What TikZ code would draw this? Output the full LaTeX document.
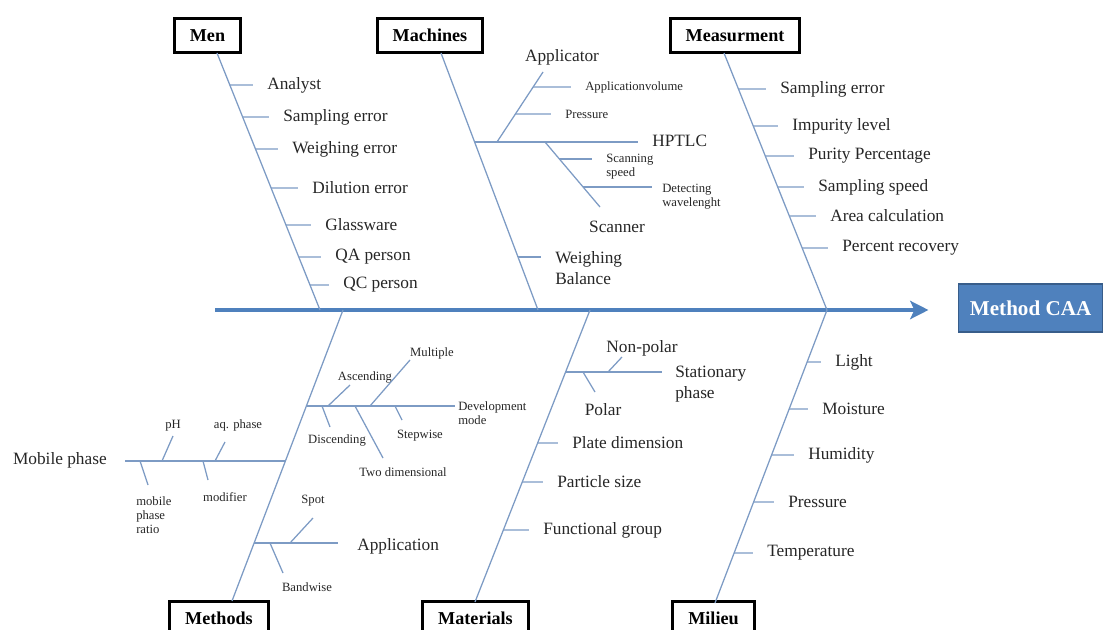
\documentclass[tikz,border=0pt]{standalone}
\usepackage{fontspec}
\setmainfont{Liberation Serif}
\usetikzlibrary{arrows.meta}

\definecolor{axisblue}{RGB}{79,129,189}
\definecolor{caaedge}{RGB}{56,93,138}
\definecolor{bonec}{RGB}{125,155,196}
\definecolor{txt}{RGB}{38,38,38}

\tikzset{
  cat/.style={draw=black, line width=2.3pt, font=\bfseries\fontsize{12.9}{15}\selectfont,
              inner xsep=11pt, minimum height=24pt},
  lbl/.style={inner sep=0pt, font=\fontsize{12.3}{14.8}\selectfont, text=txt, align=left},
  sml/.style={inner sep=0pt, font=\fontsize{9}{10}\selectfont, text=txt, align=left},
  bone/.style={draw=bonec, line width=0.9pt},
  rib/.style={bone, shorten >=10pt},
}

\begin{document}
\begin{tikzpicture}[x=0.025cm, y=-0.025cm]
\useasboundingbox (0,0) rectangle (1103,630);

% effect and main axis
\node[draw=caaedge, fill=axisblue, line width=1pt, text=white, anchor=west,
      font=\bfseries\fontsize{15}{18}\selectfont, minimum height=34pt, inner xsep=8pt]
      (caa) at (958,308) {Method CAA};
\coordinate (tail) at (215,310);
\draw[axisblue, line width=2.8pt, -{Stealth[length=13pt,width=13pt,inset=3pt]}, shorten >=21pt]
      (tail) -- (tail -| caa.west);

% categories
\node[cat] (men) at (207.5,35.5) {Men};
\node[cat] (machines) at (430,35.5) {Machines};
\node[cat] (measure) at (735,35.5) {Measurment};
\node[cat] (methods) at (219,618) {Methods};
\node[cat] (materials) at (475.5,618) {Materials};
\node[cat] (milieu) at (713.5,618) {Milieu};

% main bones
\coordinate (mena) at (217,53);   \coordinate (menb) at (320,310);
\coordinate (maca) at (441,53);   \coordinate (macb) at (538,310);
\coordinate (measa) at (724,53);  \coordinate (measb) at (827,310);
\coordinate (metha) at (343,310); \coordinate (methb) at (232,601);
\coordinate (mata) at (590,310);  \coordinate (matb) at (475,602);
\coordinate (mila) at (827,310);  \coordinate (milb) at (715,603);
\draw[bone] (mena) -- (menb) (maca) -- (macb) (measa) -- (measb)
            (metha) -- (methb) (mata) -- (matb) (mila) -- (milb);

% Men
\node[lbl, anchor=west] (analyst) at (267,85) {Analyst};
\node[lbl, anchor=west] (menserr) at (283,117) {Sampling error};
\node[lbl, anchor=west] (weigherr) at (292,149) {Weighing error};
\node[lbl, anchor=west] (dilerr) at (312,188) {Dilution error};
\node[lbl, anchor=west] (glassware) at (325,225) {Glassware};
\node[lbl, anchor=west] (qaperson) at (335,257) {QA person};
\node[lbl, anchor=west] (qcperson) at (343,285) {QC person};
\foreach \n in {analyst,menserr,weigherr,dilerr,glassware,qaperson,qcperson}
  \draw[rib] (intersection of mena--menb and \n.west--\n.east) -- (\n.west);

% Machines
\node[lbl, anchor=west] (hptlc) at (652,141) {HPTLC};
\coordinate (hpa) at (475,142);
\draw[rib] (hpa) -- (hpa -| hptlc.west);

\coordinate (appa) at (497,142); \coordinate (appb) at (543,72);
\draw[bone] (appa) -- (appb);
\node[lbl] (applicator) at (562,57) {Applicator};
\node[sml, anchor=west] (appvol) at (585,87) {Applicationvolume};
\node[sml, anchor=west] (pressm) at (565,114) {Pressure};
\foreach \n in {appvol,pressm}
  \draw[rib] (intersection of appa--appb and \n.west--\n.east) -- (\n.west);

\coordinate (scna) at (545,142); \coordinate (scnb) at (600,207);
\draw[bone] (scna) -- (scnb);
\node[lbl] (scanner) at (617,227) {Scanner};
\node[sml, anchor=west] (scanspeed) at (606,167) {Scanning\\speed};
\node[sml, anchor=west] (detwave) at (662,197) {Detecting\\wavelenght};
\coordinate (ssp) at (559,159);
\coordinate (dwl) at (583,187);
\draw[rib] (ssp) -- (ssp -| scanspeed.west);
\draw[rib, shorten >=7pt] (dwl) -- (dwl -| detwave.west);

\node[lbl, anchor=west] (balance) at (555,268) {Weighing\\Balance};
\coordinate (wbl) at (518,257);
\draw[rib] (wbl) -- (wbl -| balance.west);

% Measurment
\node[lbl, anchor=west] (meserr) at (780,89) {Sampling error};
\node[lbl, anchor=west] (impurity) at (792,126) {Impurity level};
\node[lbl, anchor=west] (purity) at (808,156) {Purity Percentage};
\node[lbl, anchor=west] (sampspeed) at (818,187) {Sampling speed};
\node[lbl, anchor=west] (area) at (830,216) {Area calculation};
\node[lbl, anchor=west] (recovery) at (842,248) {Percent recovery};
\foreach \n in {meserr,impurity,purity,sampspeed,area,recovery}
  \draw[rib] (intersection of measa--measb and \n.west--\n.east) -- (\n.west);

% Methods: development mode
\coordinate (dma) at (306,406);
\node[sml, anchor=west] (devmode) at (458,413) {Development\\mode};
\draw[rib, shorten >=2pt] (dma) -- (dma -| devmode.west);
\node[sml] (ascending) at (365,377) {Ascending};
\node[sml] (multiple) at (432,353) {Multiple};
\node[sml] (discending) at (337,440) {Discending};
\node[sml] (twodim) at (403,472) {Two dimensional};
\node[sml] (stepwise) at (420,436) {Stepwise};
\coordinate (asca) at (328,406);   \coordinate (ascb) at (350,385);
\coordinate (mula) at (370,406);   \coordinate (mulb) at (410,360);
\coordinate (disa) at (322,406);   \coordinate (disb) at (330,427);
\coordinate (twoa) at (355,406);   \coordinate (twob) at (383,458);
\coordinate (stpa) at (395,406);   \coordinate (stpb) at (402,420);
\draw[bone] (asca) -- (ascb) (mula) -- (mulb) (disa) -- (disb)
            (twoa) -- (twob) (stpa) -- (stpb);

% Methods: mobile phase
\coordinate (mpa) at (285,461);
\node[lbl, anchor=east] (mobile) at (107,460) {Mobile phase};
\draw[rib, shorten >=12.5pt] (mpa) -- (mpa -| mobile.east);
\node[sml] (ph) at (173,426) {pH};
\node[sml] (aqphase) at (238,425) {aq. phase};
\node[sml, anchor=west] (ratio) at (136,515) {mobile\\phase\\ratio};
\node[sml] (modifier) at (225,497) {modifier};
\coordinate (pha) at (162,461);    \coordinate (phb) at (173,436);
\coordinate (aqa) at (215,461);    \coordinate (aqb) at (225,442);
\coordinate (rta) at (140,461);    \coordinate (rtb) at (148,485);
\coordinate (moda) at (203,461);   \coordinate (modb) at (208,480);
\draw[bone] (pha) -- (phb) (aqa) -- (aqb) (rta) -- (rtb) (moda) -- (modb);

% Methods: application
\coordinate (apa) at (254,543);
\node[lbl, anchor=west] (application) at (357,546) {Application};
\draw[rib, shorten >=13.5pt] (apa) -- (apa -| application.west);
\node[sml] (spot) at (313,501) {Spot};
\node[sml] (bandwise) at (307,587) {Bandwise};
\coordinate (spta) at (290,543);   \coordinate (sptb) at (313,518);
\coordinate (bnda) at (270,543);   \coordinate (bndb) at (283,573);
\draw[bone] (spta) -- (sptb) (bnda) -- (bndb);

% Materials
\coordinate (sta) at (566,372);
\node[lbl, anchor=west] (stationary) at (675,384) {Stationary\\phase};
\draw[rib, shorten >=9pt] (sta) -- (sta -| stationary.west);
\node[lbl] (nonpolar) at (642,348) {Non-polar};
\node[lbl] (polar) at (603,410) {Polar};
\coordinate (npa) at (608,372);    \coordinate (npb) at (622,357);
\coordinate (pla) at (583,372);    \coordinate (plb) at (595,392);
\draw[bone] (npa) -- (npb) (pla) -- (plb);
\node[lbl, anchor=west] (plate) at (572,443) {Plate dimension};
\node[lbl, anchor=west] (particle) at (557,482) {Particle size};
\node[lbl, anchor=west] (functional) at (543,530) {Functional group};
\foreach \n in {plate,particle,functional}
  \draw[rib] (intersection of mata--matb and \n.west--\n.east) -- (\n.west);

% Milieu
\node[lbl, anchor=west] (light) at (835,362) {Light};
\node[lbl, anchor=west] (moisture) at (822,409) {Moisture};
\node[lbl, anchor=west] (humidity) at (808,455) {Humidity};
\node[lbl, anchor=west] (pressure) at (788,502) {Pressure};
\node[lbl, anchor=west] (temperature) at (767,553) {Temperature};
\foreach \n in {light,moisture,humidity,pressure,temperature}
  \draw[rib] (intersection of mila--milb and \n.west--\n.east) -- (\n.west);
\end{tikzpicture}
\end{document}
